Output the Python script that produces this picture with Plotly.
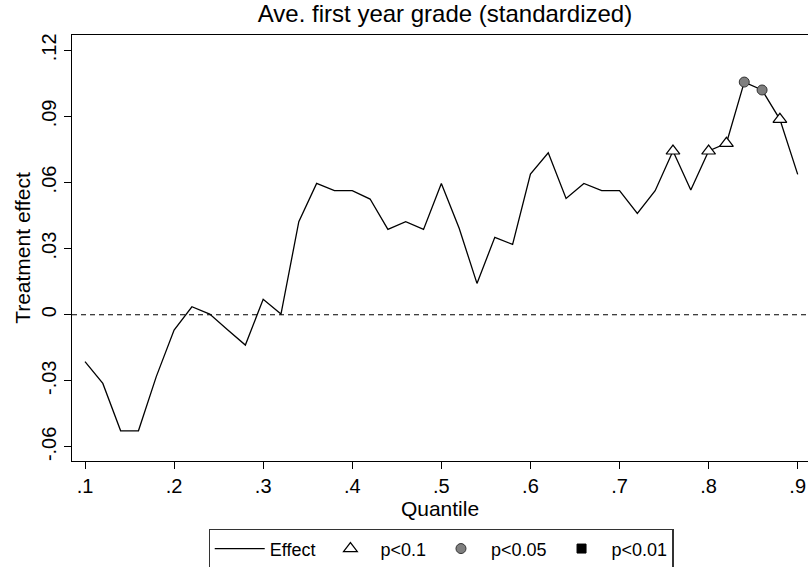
import plotly.graph_objects as go

quantile = [0.10, 0.12, 0.14, 0.16, 0.18, 0.20, 0.22, 0.24, 0.26, 0.28,
            0.30, 0.32, 0.34, 0.36, 0.38, 0.40, 0.42, 0.44, 0.46, 0.48,
            0.50, 0.52, 0.54, 0.56, 0.58, 0.60, 0.62, 0.64, 0.66, 0.68,
            0.70, 0.72, 0.74, 0.76, 0.78, 0.80, 0.82, 0.84, 0.86, 0.88,
            0.90]
effect = [-0.0213, -0.0312, -0.0527, -0.0527, -0.0281, -0.0070, 0.0036, 0.0003, -0.0068, -0.0138,
          0.0070, 0.0003, 0.0422, 0.0596, 0.0563, 0.0563, 0.0525, 0.0387, 0.0422, 0.0387,
          0.0596, 0.0392, 0.0142, 0.0351, 0.0319, 0.0638, 0.0735, 0.0528, 0.0596, 0.0563,
          0.0563, 0.0460, 0.0563, 0.0743, 0.0566, 0.0743, 0.0778, 0.1056, 0.1020, 0.0887,
          0.0637]
significance = ["", "", "", "", "", "", "", "", "", "",
                "", "", "", "", "", "", "", "", "", "",
                "", "", "", "", "", "", "", "", "", "",
                "", "", "", "p<0.1", "", "p<0.1", "p<0.1", "p<0.05", "p<0.05", "p<0.1",
                ""]

x_tickvals = [0.1, 0.2, 0.3, 0.4, 0.5, 0.6, 0.7, 0.8, 0.9]
x_ticktext = [".1", ".2", ".3", ".4", ".5", ".6", ".7", ".8", ".9"]
y_tickvals = [-0.06, -0.03, 0, 0.03, 0.06, 0.09, 0.12]
y_ticktext = ["-.06", "-.03", "0", ".03", ".06", ".09", ".12"]

FONT = "Liberation Sans, Arial, Helvetica, sans-serif"

fig = go.Figure()
fig.add_trace(go.Scatter(x=quantile, y=effect, mode="lines", name="Effect",
                         line=dict(color="black", width=1.3)))

marker_styles = {
    "p<0.1": dict(symbol="triangle-up", size=12, color="white",
                  line=dict(color="black", width=1.2)),
    "p<0.05": dict(symbol="circle", size=10, color="#7f7f7f",
                   line=dict(color="#333333", width=1)),
    "p<0.01": dict(symbol="square", size=9, color="black",
                   line=dict(color="black", width=1)),
}
for label, style in marker_styles.items():
    xs = [q for q, s in zip(quantile, significance) if s == label]
    ys = [e for e, s in zip(effect, significance) if s == label]
    if not xs:
        xs, ys = [None], [None]
    fig.add_trace(go.Scatter(x=xs, y=ys, mode="markers", name=label, marker=style))

fig.add_shape(type="line", xref="paper", x0=0, x1=1, yref="y", y0=0, y1=0,
              line=dict(color="black", width=1.1, dash="5px,4px"), layer="below")

fig.update_layout(
    width=808, height=567,
    margin=dict(l=72, r=0, t=35, b=106, autoexpand=False),
    paper_bgcolor="white", plot_bgcolor="white",
    font=dict(family=FONT, color="black", size=20),
    title=dict(text="Ave. first year grade (standardized)", x=0.5068, xref="paper",
               y=1 - 14 / 567, yref="container", xanchor="center", yanchor="middle",
               font=dict(size=24, color="black")),
    showlegend=True,
    legend=dict(orientation="h", x=0.5014, xanchor="center", y=-0.16, yanchor="top",
                bordercolor="#333333", borderwidth=1.2, bgcolor="white",
                font=dict(size=18), itemwidth=50),
    xaxis=dict(range=[0.08541, 0.91156], tickvals=x_tickvals, ticktext=x_ticktext,
               showgrid=False, zeroline=False, showline=True, linecolor="black",
               linewidth=1.3, mirror=True, ticks="outside", ticklen=7, tickwidth=1.2,
               tickcolor="black", tickfont=dict(size=20), automargin=False,
               title=dict(text="Quantile", font=dict(size=21), standoff=1)),
    yaxis=dict(range=[-0.06641, 0.12696], tickvals=y_tickvals, ticktext=y_ticktext,
               showgrid=False, zeroline=False, showline=True, linecolor="black",
               linewidth=1.3, mirror=False, ticks="outside", ticklen=7, tickwidth=1.2,
               tickcolor="black", tickangle=-90, tickfont=dict(size=20), automargin=False,
               title=dict(text="Treatment effect", font=dict(size=21), standoff=1)),
)

fig.write_html("out.html", config={"displayModeBar": False},
               post_script="document.body.style.margin='0px';document.body.style.overflow='hidden';")
